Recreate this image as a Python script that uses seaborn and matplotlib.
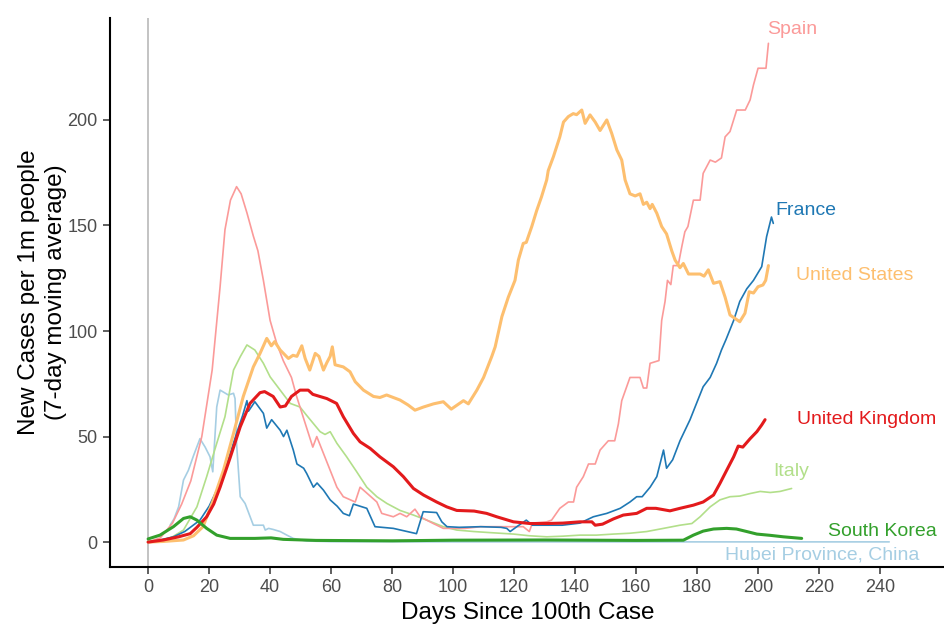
import matplotlib
matplotlib.use("Agg")
import matplotlib.pyplot as plt
import pandas as pd
import seaborn as sns

# Days since 100th case and new cases per 1m people (7-day moving average)
spain_days = [0, 4, 8, 11, 14, 17.6, 21, 23.6, 25.2, 27, 29, 30.5, 32.4, 34.5, 36, 37.8, 40, 42.2,
              44.3, 47, 48.7, 50.9, 54, 55.3, 57.5, 59.7, 61.9, 64, 67.9, 69.5, 71.1, 75, 76.6, 80.4,
              82.6, 84.8, 87.5, 89.2, 93.5, 96.8, 104, 109, 115.7, 123, 125, 126, 130.7, 132.3, 135,
              137.8, 139.5, 140.5, 142.7, 144.4, 146.6, 148.2, 150.9, 153, 154.2, 155.3, 158, 161.3,
              162.4, 163.5, 164.6, 167.5, 168.4, 169.5, 170.3, 171.4, 172.2, 173.8, 175, 176, 177,
              178.8, 181, 182, 184.3, 186, 188, 189.2, 190.8, 193, 195.8, 197.4, 198.5, 200, 202.6, 203.4]
spain_vals = [0, 2, 9, 18, 29, 50, 81.5, 121, 148, 162, 168.4, 165, 156, 145, 138, 124, 105, 94,
              86, 78, 69, 59, 45, 50, 42, 34, 26, 21.5, 19, 26, 24, 19, 13.6, 12,
              13.6, 12, 15.6, 12, 8.8, 6.5, 6.5, 7.3, 7.3, 7.3, 5, 9, 9.6, 10.4, 16,
              19, 19, 26, 31, 37, 37, 43.6, 48, 48, 56, 67, 78, 78,
              73, 73, 84.7, 86, 105, 114, 124, 122, 131, 131, 140, 147, 149.5,
              162, 162, 174.7, 181, 180, 182, 192, 194.5, 204.7, 204.7, 209.5, 216.6, 224.5, 224.5, 236.3]

france_days = [0, 4, 8.3, 12, 17, 20, 22.5, 25.8, 29, 31, 32.4, 32.9, 35, 37.8, 38.9, 40.5, 43.3, 44.4,
               45.5, 47.6, 48.8, 51, 52, 54.2, 55.4, 57.5, 59.7, 62, 64, 66, 67.3, 71.7, 74.4, 80.4,
               88, 90.2, 94.6, 96.3, 98, 102, 109, 115.7, 117.6, 118.7, 120.9, 124, 126, 135.8, 141.6,
               146, 150.4, 154.8, 158, 160.2, 162, 164.6, 166.8, 169, 170, 172, 174.4, 177.7, 179.9,
               182, 184.3, 186.4, 188, 189.5, 192, 194, 196.3, 198.5, 201.2, 202.8, 204.4, 205]
france_vals = [0, 1, 2.5, 5, 10.4, 17, 24.6, 37, 51.5, 60, 67, 62, 66.5, 61, 54, 58, 53, 50,
               53, 43.6, 37, 35, 32.5, 26, 28, 24.6, 20, 17, 13.6, 12.5, 18, 16, 7.3, 6.5,
               4, 14.4, 14, 9.6, 7.3, 7, 7.3, 7, 6.5, 5, 7.3, 10.4, 8, 8, 9,
               12, 13.6, 16, 19, 21.5, 21.5, 26, 31, 43.6, 35, 39, 48, 58, 66,
               73.6, 78, 84.7, 91, 96, 105, 114, 120, 124, 130.5, 144.7, 154, 151]

us_days = [0, 5, 11.6, 14.9, 18, 21.4, 24.7, 28, 31.2, 34.5, 36.7, 38.9, 40.4, 41.5, 43.3, 46, 47.5,
           48.8, 50.4, 51.5, 53, 54.8, 56, 57.5, 58.6, 59.7, 60.4, 61.3, 64, 66.2, 67.9, 70.6, 73.9,
           76, 78.2, 80.4, 82.6, 85.2, 87.5, 90.3, 93.6, 96.8, 99.4, 103.4, 105, 107.8, 110, 112.7,
           113.8, 116, 118.1, 120.3, 121.4, 123, 124, 125.8, 127.4, 129, 130.7, 131.2, 132.9, 135,
           136.2, 137.8, 139.4, 140.5, 142.2, 143.3, 144.9, 146.6, 148.2, 150.4, 152, 153.7, 155.3,
           156.4, 158, 159.7, 161.3, 162.4, 163.5, 164.6, 165.3, 166.8, 168.4, 170, 171.7, 172.8,
           174.4, 175.5, 177.2, 178.8, 181, 182.3, 183.7, 185.4, 187.5, 189.2, 190.8, 192.4, 194,
           195.7, 197.1, 198.5, 200, 201.6, 202.5, 203.4]
us_vals = [0, 0.3, 1, 3, 7.3, 20, 34, 51.5, 69, 83, 89.4, 96.5, 93, 95, 91, 87, 88.5,
           88, 93, 87, 81.5, 89.4, 88, 81.5, 85, 88, 92.5, 84, 83, 80.7, 76, 72, 69,
           68.5, 69.7, 68.5, 67.3, 65, 62.5, 64, 65.5, 66.5, 63, 67, 65.5, 72, 78, 88,
           92.5, 106.8, 116, 124, 133.6, 141.5, 142, 149.5, 157, 163.6, 171.6, 176, 182.6, 192,
           199, 201.6, 203, 202.5, 204.7, 198.4, 202.4, 199, 195, 200, 193.7, 185.8, 181,
           171.6, 165, 164, 165, 160, 161, 158, 160, 155.8, 149.5, 146, 138, 133.6,
           130, 132, 127, 127, 127, 126, 129, 122.6, 123.4, 116, 107.6, 106, 104.4,
           108.4, 118.6, 118, 121, 121.8, 124, 131]

uk_days = [0, 5, 10, 13.8, 16, 19.2, 21.5, 23.6, 26.9, 30.2, 33.4, 36.7, 38.2, 41, 43.3, 45, 47,
           49.8, 52.5, 54, 58.6, 61.8, 64, 67.3, 69.5, 72.8, 76, 80.4, 83.7, 87, 90.3, 94.6, 97.9,
           101.2, 106.9, 111, 114.3, 119.8, 125.2, 130.7, 136, 141.6, 145.5, 146.6, 149, 152.6,
           155.8, 160.2, 163.5, 166.5, 171.1, 174.4, 178.8, 182, 185.4, 187.5, 189.7, 192, 193.5,
           195, 197.4, 199.6, 201.2, 202.3]
uk_vals = [0, 1, 2.5, 4, 7, 12, 18, 26, 40, 54.6, 65.7, 70.8, 71.3, 69, 64, 64.5, 69,
           72, 72, 70, 68, 65.7, 59.4, 51.5, 47.5, 44.4, 40.4, 35.7, 31, 25.4, 22.3, 19, 16.7,
           15, 14.7, 13.6, 12, 9.6, 8.8, 8.8, 9, 9.6, 9.6, 8, 8.5, 11,
           12.8, 13.6, 16, 16, 14.8, 16, 17.5, 19, 22.3, 27.8, 34, 40.4, 45.5,
           45, 49, 52.3, 55.5, 58]

italy_days = [0, 5, 8, 11.6, 16, 19.2, 22.5, 25.2, 28, 30.2, 32.4, 35, 37.8, 40, 43.3, 46.6, 49.8,
              52, 56.4, 58, 59.7, 61.9, 65.1, 68.4, 71.7, 75, 78.3, 82.6, 87, 91.4, 96.8, 101.2,
              106.8, 112, 119.8, 125, 130.7, 136, 141.6, 147, 152.6, 158, 163.5, 169, 174.4, 178.3,
              181, 184.3, 187.5, 190.8, 194, 197.4, 200.7, 204, 207.2, 211]
italy_vals = [0, 1, 2.5, 5.7, 16.7, 31, 46.8, 59.4, 81.5, 87.8, 93.4, 91, 84.7, 78.3, 72, 65.7, 64,
              60, 52.3, 51, 52.3, 46.8, 40.4, 33.3, 26, 21.5, 18.3, 15, 12.8, 10.4, 7.3, 5.7,
              5, 4.5, 3.8, 3, 2.5, 2.8, 3.3, 3.3, 3.8, 4.2, 5, 6.5, 8, 8.8,
              12, 16.7, 20, 21.5, 21.8, 23, 24, 23.5, 24, 25.4]

korea_days = [0, 3.9, 8.3, 11.6, 13.8, 16, 19.2, 22.5, 26.9, 35, 40.3, 44.3, 55, 80, 100, 130, 160,
              175.5, 178.8, 182, 185.4, 189.7, 192.9, 196.3, 199.6, 204, 208.3, 214.3]
korea_vals = [1.5, 3.3, 7.3, 11.2, 12, 10.4, 6.5, 3.3, 1.75, 1.75, 2, 1.3, 0.8, 0.6, 0.9, 1, 0.8,
              0.9, 3.3, 5.2, 6.2, 6.5, 6.2, 5, 3.8, 3.2, 2.5, 1.75]

hubei_days = [7.2, 8.5, 10, 11.6, 13.2, 14.9, 17, 18.7, 20.3, 21.2, 22.5, 23.6, 26.3, 28, 28.5, 29,
              30.2, 31.8, 34.5, 37.8, 38.4, 39.5, 41, 43.3, 45.5, 47.6, 52, 60, 100, 243]
hubei_vals = [8, 11, 16.7, 29.4, 34, 41, 49, 45, 40.4, 33.3, 64, 72, 69.7, 70.5, 68, 46.8,
              21.5, 18.3, 8, 8, 5.7, 6.5, 6, 5, 3.3, 1.75, 0.5, 0.2, 0.1, 0.1]

countries = ["Hubei Province, China", "Italy", "Spain", "France",
             "United States", "United Kingdom", "South Korea"]
series = {
    "Hubei Province, China": (hubei_days, hubei_vals),
    "Italy": (italy_days, italy_vals),
    "Spain": (spain_days, spain_vals),
    "France": (france_days, france_vals),
    "United States": (us_days, us_vals),
    "United Kingdom": (uk_days, uk_vals),
    "South Korea": (korea_days, korea_vals),
}
colors = {
    "Hubei Province, China": "#a6cee3",
    "France": "#1f78b4",
    "Italy": "#b2df8a",
    "South Korea": "#33a02c",
    "Spain": "#fb9a99",
    "United Kingdom": "#e31a1c",
    "United States": "#fdbf6f",
}
widths = {
    "Hubei Province, China": 1.2, "France": 1.2, "Italy": 1.2, "Spain": 1.2,
    "United Kingdom": 2.2, "United States": 2.2, "South Korea": 2.2,
}
# where each country's name is written (day, value)
label_at = {
    "Spain": (203, 243),
    "France": (205.6, 157),
    "United States": (212.5, 126.5),
    "United Kingdom": (212.8, 58.3),
    "Italy": (205, 33.6),
    "South Korea": (223, 5.2),
    "Hubei Province, China": (189, -6),
}

frames = []
for c in countries:
    d, v = series[c]
    frames.append(pd.DataFrame({"day": d, "cases": v, "country": c}))
df = pd.concat(frames, ignore_index=True)

sns.set_theme(style="ticks")
plt.rcParams["font.family"] = ["Liberation Sans", "DejaVu Sans"]

fig = plt.figure(figsize=(9.45, 6.25), dpi=100)
ax = fig.add_axes([0.1164, 0.0928, 0.8836, 0.8784])

ax.axvline(0, color="#bebebe", lw=1.3, zorder=1)

for c in countries:
    sub = df[df["country"] == c]
    sns.lineplot(data=sub, x="day", y="cases", color=colors[c], linewidth=widths[c],
                 estimator=None, sort=False, ax=ax, zorder=2)
    lx, ly = label_at[c]
    ax.text(lx, ly, c, color=colors[c], fontsize=14, ha="left", va="center")

ax.set_xlim(-12.5, 261.3)
ax.set_ylim(-11.8, 248.3)
ax.set_xticks(range(0, 241, 20))
ax.set_yticks([0, 50, 100, 150, 200])

for s in ["top", "right"]:
    ax.spines[s].set_visible(False)
for s in ["left", "bottom"]:
    ax.spines[s].set_color("black")
    ax.spines[s].set_linewidth(1.5)
ax.tick_params(axis="both", length=5, width=1.1, color="#333333",
               labelsize=13, labelcolor="#4d4d4d", pad=4)

ax.set_xlabel("Days Since 100th Case", fontsize=17.5, color="black", labelpad=4)
ax.set_ylabel("New Cases per 1m people\n(7-day moving average)", fontsize=17.5,
              color="black", linespacing=1.3)
ax.yaxis.set_label_coords(-0.051, 0.5)

fig.savefig("out.png", dpi=100)
